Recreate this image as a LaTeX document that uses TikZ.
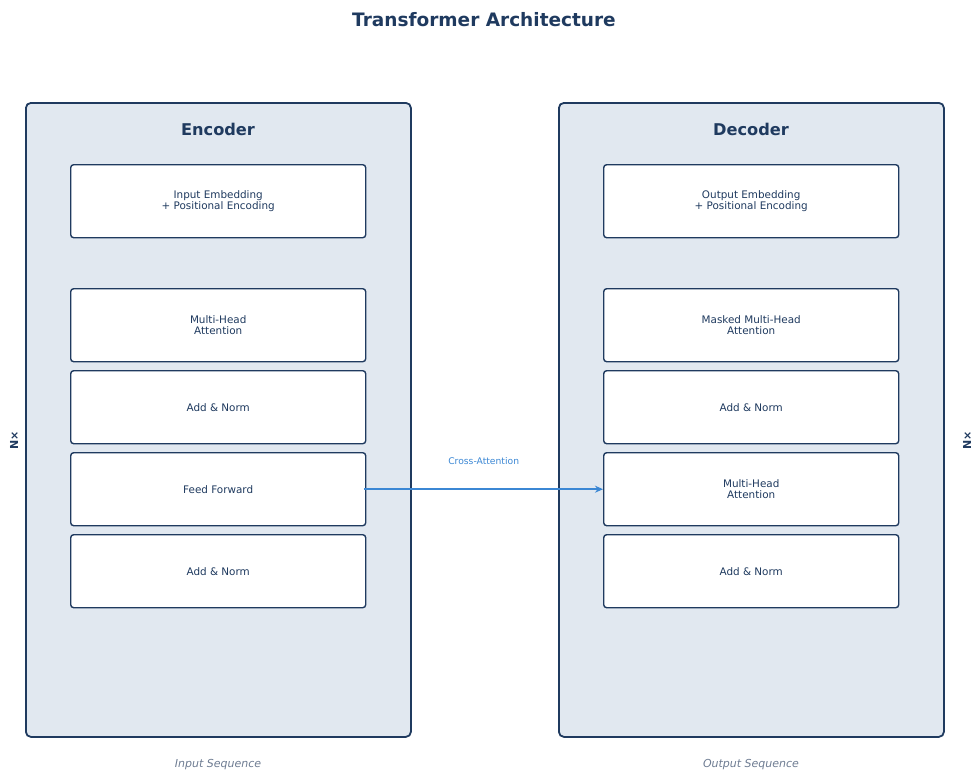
\documentclass[tikz,border=0pt]{standalone}
\usepackage{fontspec}
\setmainfont{DejaVu Sans}
\usetikzlibrary{arrows.meta}
\definecolor{navy}{HTML}{1F3A5F}
\definecolor{panel}{HTML}{E1E8F0}
\definecolor{arrowblue}{HTML}{3B87D4}
\definecolor{graytxt}{HTML}{6E7C92}
\begin{document}
\begin{tikzpicture}[x=1pt,y=-1pt,
  panelbox/.style={draw=navy, line width=1.8pt, fill=panel, rounded corners=5pt, minimum width=385pt, minimum height=634pt, anchor=north west, inner sep=0pt},
  layerbox/.style={draw=navy, line width=1.4pt, fill=white, rounded corners=3pt, minimum width=295pt, minimum height=73pt, anchor=north west, inner sep=0pt, align=center, font=\fontsize{10.4}{11.5}\selectfont, text=navy},
  paneltitle/.style={font=\bfseries\fontsize{16.2}{18}\selectfont, text=navy},
  seqlabel/.style={font=\itshape\fontsize{11}{12}\selectfont, text=graytxt},
  nlabel/.style={font=\bfseries\fontsize{11}{12}\selectfont, text=navy, rotate=90}
]
\useasboundingbox (0,0) rectangle (972,771);
\node[font=\bfseries\fontsize{18.5}{20}\selectfont, text=navy] (title) at (484,20) {Transformer Architecture};

\node[panelbox] (enc) at (25,102) {};
\node[panelbox] (dec) at (558,102) {};
\node[paneltitle] (enct) at (218,129) {Encoder};
\node[paneltitle] (dect) at (751,129) {Decoder};

\node[layerbox] (e1) at (70,164) {Input Embedding\\+ Positional Encoding};
\node[layerbox] (e2) at (70,288) {Multi-Head\\Attention};
\node[layerbox] (e3) at (70,370) {Add \& Norm};
\node[layerbox] (e4) at (70,452) {Feed Forward};
\node[layerbox] (e5) at (70,534) {Add \& Norm};

\node[layerbox] (d1) at (603,164) {Output Embedding\\+ Positional Encoding};
\node[layerbox] (d2) at (603,288) {Masked Multi-Head\\Attention};
\node[layerbox] (d3) at (603,370) {Add \& Norm};
\node[layerbox] (d4) at (603,452) {Multi-Head\\Attention};
\node[layerbox] (d5) at (603,534) {Add \& Norm};

\draw[arrowblue, line width=1.5pt, -{Stealth[length=8pt,width=7pt]}] ([xshift=-2pt]e4.east) -- (d4.west)
  node[midway, above=20pt, font=\fontsize{9.2}{10}\selectfont, text=arrowblue] (ca) {Cross-Attention};

\node[nlabel] (nl) at (14,440) {N×};
\node[nlabel] (nr) at (967,440) {N×};

\node[seqlabel] (is) at (218,765) {Input Sequence};
\node[seqlabel] (os) at (751,765) {Output Sequence};
\end{tikzpicture}
\end{document}
